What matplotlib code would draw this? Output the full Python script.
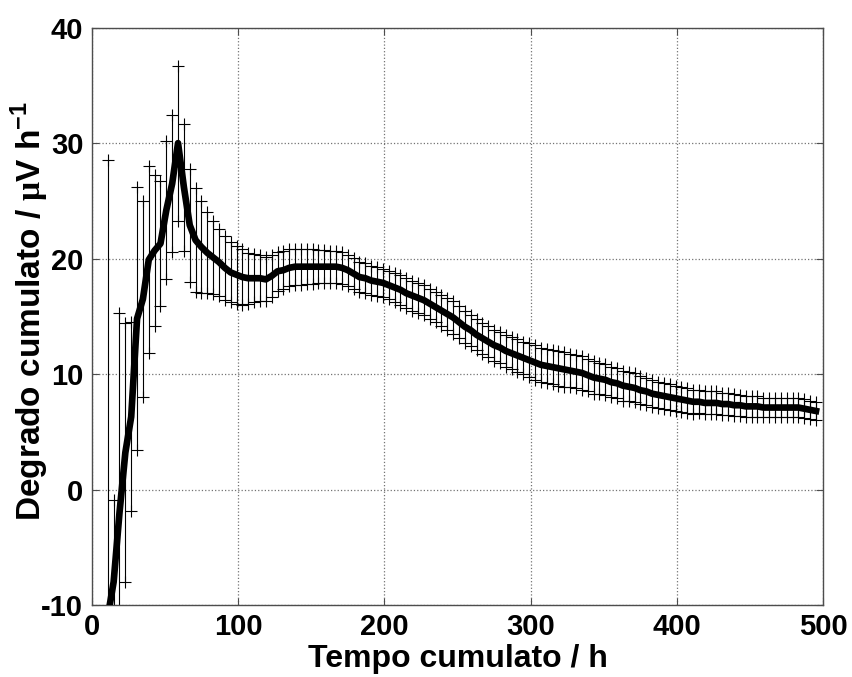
import numpy as np
import matplotlib
matplotlib.use("Agg")
import matplotlib.pyplot as plt

plt.rcParams['font.family'] = ['Liberation Sans', 'DejaVu Sans']
plt.rcParams['font.weight'] = 'bold'
plt.rcParams['axes.unicode_minus'] = False
plt.rcParams['mathtext.fontset'] = 'custom'
plt.rcParams['mathtext.rm'] = 'Liberation Serif'
plt.rcParams['mathtext.sf'] = 'Liberation Sans:bold'

# time (h)
tempo = [11, 15, 19, 23, 27, 31, 35, 39, 43, 47, 51, 55, 59, 63, 67, 71, 75, 79, 83, 87,
         91, 95, 99, 103, 107, 111, 115, 119, 123, 127, 131, 135, 139, 143, 147, 151, 155, 159, 163, 167,
         171, 175, 179, 183, 187, 191, 195, 199, 203, 207, 211, 215, 219, 223, 227, 231, 235, 239, 243, 247,
         251, 255, 259, 263, 267, 271, 275, 279, 283, 287, 291, 295, 299, 303, 307, 311, 315, 319, 323, 327,
         331, 335, 339, 343, 347, 351, 355, 359, 363, 367, 371, 375, 379, 383, 387, 391, 395, 399, 403, 407,
         411, 415, 419, 423, 427, 431, 435, 439, 443, 447, 451, 455, 459, 463, 467, 471, 475, 479, 483, 487,
         491, 495]

# mean cumulated degradation (uV/h)
degrado = [-11.0, -8.0, -2.0, 3.2, 6.3, 14.8, 16.5, 19.9, 20.7, 21.3, 24.2, 26.5, 30.0, 26.2, 22.9, 21.6, 21.0, 20.5, 20.1, 19.7,
           19.2, 18.8, 18.6, 18.4, 18.3, 18.3, 18.3, 18.2, 18.5, 18.9, 19.0, 19.2, 19.3, 19.3, 19.3, 19.3, 19.3, 19.3, 19.3, 19.3,
           19.2, 19.0, 18.7, 18.4, 18.3, 18.1, 18.0, 17.9, 17.7, 17.5, 17.3, 17.0, 16.8, 16.6, 16.4, 16.1, 15.8, 15.5, 15.2, 14.9,
           14.5, 14.1, 13.8, 13.4, 13.1, 12.8, 12.5, 12.3, 12.0, 11.8, 11.6, 11.4, 11.2, 11.0, 10.8, 10.7, 10.6, 10.5, 10.4, 10.3,
           10.2, 10.1, 9.9, 9.7, 9.6, 9.5, 9.3, 9.2, 9.0, 8.9, 8.8, 8.6, 8.5, 8.3, 8.2, 8.1, 8.0, 7.9, 7.8, 7.7,
           7.6, 7.6, 7.5, 7.5, 7.5, 7.4, 7.4, 7.3, 7.3, 7.2, 7.2, 7.2, 7.1, 7.1, 7.1, 7.1, 7.1, 7.1, 7.1, 7.0,
           6.9, 6.8]

# error bar half width
errore = [39.5, 7.1, 17.3, 11.2, 8.2, 11.4, 8.5, 8.1, 6.5, 5.4, 6.0, 5.9, 6.7, 5.5, 4.9, 4.5, 4.0, 3.5, 3.2, 2.9,
          2.8, 2.6, 2.5, 2.4, 2.2, 2.1, 2.0, 1.9, 1.8, 1.7, 1.65, 1.6, 1.55, 1.55, 1.5, 1.5, 1.45, 1.45, 1.4, 1.4,
          1.4, 1.35, 1.35, 1.3, 1.3, 1.25, 1.25, 1.2, 1.2, 1.25, 1.3, 1.3, 1.3, 1.3, 1.3, 1.3, 1.3, 1.35, 1.35, 1.4,
          1.4, 1.4, 1.35, 1.35, 1.35, 1.35, 1.35, 1.35, 1.4, 1.4, 1.4, 1.4, 1.45, 1.5, 1.5, 1.5, 1.5, 1.5, 1.5, 1.45,
          1.45, 1.45, 1.4, 1.4, 1.35, 1.35, 1.3, 1.3, 1.3, 1.25, 1.25, 1.2, 1.2, 1.15, 1.15, 1.15, 1.1, 1.1, 1.05, 1.05,
          1.05, 1.0, 1.0, 1.0, 1.0, 0.95, 0.95, 0.95, 0.9, 0.9, 0.9, 0.9, 0.85, 0.85, 0.85, 0.8, 0.8, 0.8, 0.8, 0.8,
          0.75, 0.75]

t = np.array(tempo)
y = np.array(degrado)
e = np.array(errore)

fig = plt.figure(figsize=(8.53, 6.77), dpi=100)
ax = fig.add_axes([0.1075, 0.1064, 0.8577, 0.8527])

# error bars with + at both ends
ax.vlines(t, y - e, y + e, colors='k', linewidth=0.8, zorder=2)
ax.plot(t, y + e, '+', color='k', markersize=9, markeredgewidth=0.8, linestyle='none', zorder=2)
ax.plot(t, y - e, '+', color='k', markersize=9, markeredgewidth=0.8, linestyle='none', zorder=2)

# mean curve
ax.plot(t, y, color='k', linewidth=4.8, solid_joinstyle='round', zorder=3)

ax.set_xlim(0, 500)
ax.set_ylim(-10, 40)
ax.set_xticks([0, 100, 200, 300, 400, 500])
ax.set_yticks([-10, 0, 10, 20, 30, 40])
ax.grid(True, linestyle=':', color='0.45', linewidth=0.9)
ax.set_axisbelow(True)
ax.tick_params(direction='in', top=True, right=True, length=5, width=0.8, color='0.3',
               labelsize=21, pad=6)
for lab in ax.get_xticklabels() + ax.get_yticklabels():
    lab.set_fontweight('bold')
for s in ax.spines.values():
    s.set_color('0.3')
    s.set_linewidth(1.0)

ax.set_xlabel('Tempo cumulato / h', fontsize=23, fontweight='bold')
ax.set_ylabel(r'Degrado cumulato / $\mathrm{\mu}$V h$^{\mathsf{-1}}$', fontsize=24, fontweight='bold')
ax.xaxis.set_label_coords(0.5, -0.068)
ax.yaxis.set_label_coords(-0.056, 0.51)

plt.savefig("out.png", dpi=100)
